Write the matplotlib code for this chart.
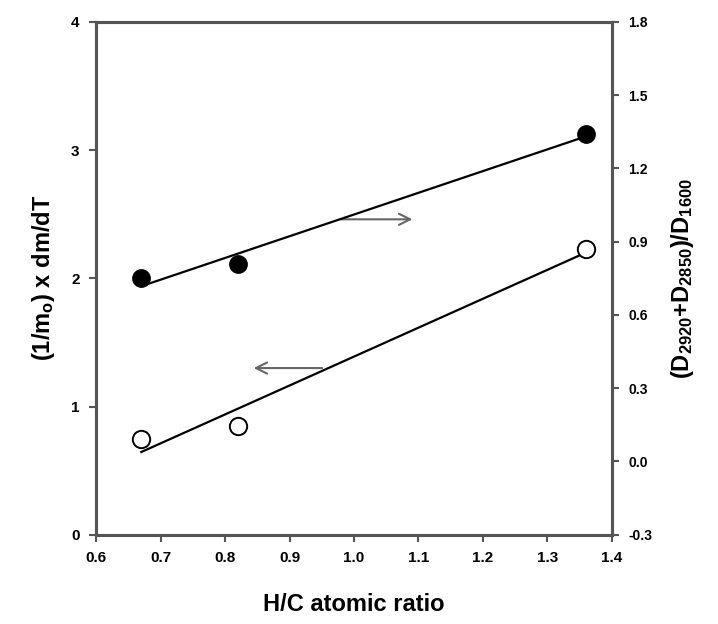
"""Mass-loss rate and IR band ratio versus H/C atomic ratio."""

import matplotlib

matplotlib.use("Agg")
import matplotlib.pyplot as plt
import numpy as np

plt.rcParams["font.family"] = ["Liberation Sans", "DejaVu Sans"]
plt.rcParams["font.weight"] = "bold"
plt.rcParams["mathtext.default"] = "regular"

# H/C atomic ratio of the three samples
hc_ratio = [0.67, 0.82, 1.36]
# left axis: (1/m0) x dm/dT  (open circles)
mass_rate = [0.75, 0.85, 2.23]
# right axis: (D2920+D2850)/D1600  (filled circles)
band_ratio = [0.75, 0.81, 1.34]

x_ticks = [0.6, 0.7, 0.8, 0.9, 1.0, 1.1, 1.2, 1.3, 1.4]
left_ticks = [0, 1, 2, 3, 4]
right_ticks = [-0.3, 0.0, 0.3, 0.6, 0.9, 1.2, 1.5, 1.8]

spine_color = "#555555"

fig = plt.figure(figsize=(7.18, 6.24), dpi=100)
ax = fig.add_axes([0.134, 0.143, 0.718, 0.822])
ax2 = ax.twinx()

x_fit = np.array([min(hc_ratio), max(hc_ratio)])

# open circles with linear fit (left axis)
coef_left = np.polyfit(hc_ratio, mass_rate, 1)
ax.plot(x_fit, np.polyval(coef_left, x_fit), color="black", lw=1.6)
ax.plot(hc_ratio, mass_rate, "o", ms=12.5, mfc="white", mec="black", mew=1.4)

# filled circles with linear fit (right axis)
coef_right = np.polyfit(hc_ratio, band_ratio, 1)
ax2.plot(x_fit, np.polyval(coef_right, x_fit), color="black", lw=1.6)
ax2.plot(hc_ratio, band_ratio, "o", ms=12.5, color="black")

# arrows showing which axis each series belongs to
ax.annotate("", xy=(1.095, 2.46), xytext=(0.975, 2.46),
            arrowprops=dict(arrowstyle="->", color="#666666", lw=1.5,
                            mutation_scale=20))
ax.annotate("", xy=(0.84, 1.30), xytext=(0.955, 1.30),
            arrowprops=dict(arrowstyle="->", color="#666666", lw=1.5,
                            mutation_scale=20))

ax.set_xlim(0.6, 1.4)
ax.set_ylim(0, 4)
ax2.set_ylim(-0.3, 1.8)

ax.set_xticks(x_ticks)
ax.set_xticklabels([f"{t:.1f}" for t in x_ticks])
ax.set_yticks(left_ticks)
ax2.set_yticks(right_ticks)
ax2.set_yticklabels([f"{t:.1f}" for t in right_ticks])

for axis in (ax, ax2):
    for spine in axis.spines.values():
        spine.set_color(spine_color)
        spine.set_linewidth(2.2)
    axis.tick_params(direction="out", length=5, width=1.5, color=spine_color,
                     labelsize=11, pad=7)
ax2.tick_params(labelsize=10)

ax.set_xlabel("H/C atomic ratio", fontsize=17, fontweight="bold", labelpad=20)
ax.set_ylabel("(1/m$_{o}$) x dm/dT", fontsize=17, fontweight="bold", labelpad=10)
ax2.set_ylabel("(D$_{2920}$+D$_{2850}$)/D$_{1600}$", fontsize=17,
               fontweight="bold", labelpad=12)

fig.savefig("out.png", dpi=100)
